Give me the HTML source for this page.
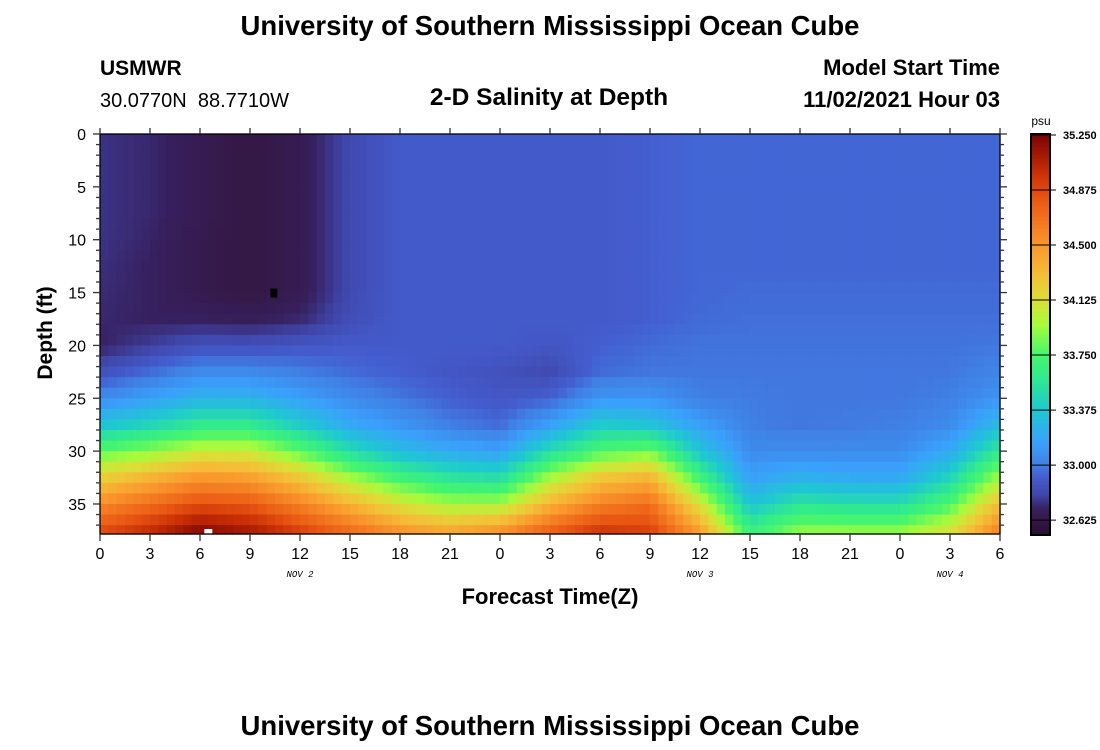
<!DOCTYPE html>
<html><head><meta charset="utf-8">
<style>
body{margin:0;background:#fff;width:1100px;height:750px;overflow:hidden;font-family:"Liberation Sans",sans-serif;}
svg{display:block}
</style></head>
<body>
<svg id="chart" width="1100" height="750">
<text x="550" y="35" text-anchor="middle" font-size="27.5" font-weight="bold">University of Southern Mississippi Ocean Cube</text>
<text x="100" y="75" font-size="21" font-weight="bold">USMWR</text>
<text x="100" y="107" font-size="20" xml:space="preserve" style="white-space:pre">30.0770N  88.7710W</text>
<text x="549" y="105" text-anchor="middle" font-size="24.5" font-weight="bold">2-D Salinity at Depth</text>
<text x="1000" y="75" text-anchor="end" font-size="22" font-weight="bold">Model Start Time</text>
<text x="1000" y="107" text-anchor="end" font-size="22" font-weight="bold">11/02/2021 Hour 03</text>
<g id="cells"></g>
<g id="axes"></g>
<g id="cbar"></g>
<text x="550" y="604" text-anchor="middle" font-size="22" font-weight="bold">Forecast Time(Z)</text>
<text transform="translate(52,333) rotate(-90)" text-anchor="middle" font-size="21" font-weight="bold">Depth (ft)</text>
<text x="550" y="735" text-anchor="middle" font-size="27.5" font-weight="bold">University of Southern Mississippi Ocean Cube</text>
</svg>
<script>
const times=[0,3,6,9,12,15,18,21,24,27,30,33,36,39,42,45,48,51,54];
const depths=[0,2.5,5,7.5,10,12.5,15,17.5,20,22.5,25,27.5,30,32.5,35,37.5];
// salinity columns, one per time, values per depth
const sal0=[32.75,32.75,32.75,32.75,32.75,32.74,32.73,32.72,32.70,32.85,33.05,33.35,33.8,34.2,34.55,34.85];
const sal3=[32.72,32.72,32.72,32.72,32.71,32.70,32.70,32.70,32.78,32.95,33.15,33.45,33.9,34.35,34.7,35.0];
const sal6=[32.66,32.66,32.66,32.66,32.65,32.65,32.65,32.70,32.85,33.05,33.25,33.6,34.05,34.5,34.85,35.2];
const sal9=[32.62,32.62,32.62,32.62,32.62,32.62,32.62,32.68,32.85,33.05,33.25,33.6,34.05,34.45,34.8,35.1];
const sal12=[32.66,32.66,32.66,32.66,32.66,32.66,32.66,32.72,32.88,33.0,33.15,33.4,33.8,34.25,34.6,34.9];
const sal15=[32.82,32.82,32.82,32.82,32.82,32.82,32.82,32.84,32.9,32.95,33.05,33.2,33.5,33.95,34.35,34.7];
const sal18=[32.9,32.9,32.9,32.9,32.9,32.9,32.9,32.9,32.9,32.92,32.98,33.1,33.3,33.7,34.1,34.5];
const sal21=[32.9,32.9,32.9,32.9,32.9,32.9,32.9,32.9,32.9,32.88,32.92,33.0,33.2,33.55,33.95,34.4];
const sal24=[32.9,32.9,32.9,32.9,32.9,32.9,32.9,32.9,32.9,32.86,32.88,32.95,33.15,33.5,33.95,34.5];
const sal27=[32.9,32.9,32.9,32.9,32.9,32.9,32.9,32.9,32.88,32.82,32.92,33.15,33.5,33.95,34.35,34.75];
const sal30=[32.9,32.9,32.9,32.9,32.9,32.9,32.9,32.9,32.92,32.95,33.1,33.4,33.75,34.25,34.6,34.95];
const sal33=[32.92,32.92,32.92,32.92,32.92,32.92,32.92,32.92,32.95,32.98,33.1,33.35,33.85,34.35,34.7,34.9];
const sal36=[32.94,32.94,32.94,32.94,32.94,32.94,32.94,32.95,32.97,32.98,33.0,33.15,33.35,33.7,34.1,34.45];
const sal39=[32.94,32.94,32.94,32.94,32.94,32.94,32.95,32.96,32.97,32.98,32.99,33.0,33.05,33.15,33.35,33.65];
const sal42=[32.94,32.94,32.94,32.94,32.94,32.94,32.95,32.96,32.97,32.98,32.98,32.98,33.05,33.25,33.55,33.9];
const sal45=[32.94,32.94,32.94,32.94,32.94,32.94,32.95,32.96,32.97,32.98,32.98,32.99,33.05,33.2,33.5,33.9];
const sal48=[32.94,32.94,32.94,32.94,32.94,32.94,32.95,32.96,32.97,32.98,32.98,33.0,33.05,33.2,33.5,33.9];
const sal51=[32.94,32.94,32.94,32.94,32.94,32.94,32.95,32.96,32.97,32.98,33.0,33.05,33.2,33.45,33.75,34.1];
const sal54=[32.94,32.94,32.94,32.94,32.94,32.94,32.95,32.96,32.98,33.02,33.1,33.3,33.6,33.95,34.3,34.6];
const salinity=[sal0,sal3,sal6,sal9,sal12,sal15,sal18,sal21,sal24,sal27,sal30,sal33,sal36,sal39,sal42,sal45,sal48,sal51,sal54];
const xTicks=[0,3,6,9,12,15,18,21,0,3,6,9,12,15,18,21,0,3,6];
const yTicks=[0,5,10,15,20,25,30,35];
const cbTicks=[35.25,34.875,34.5,34.125,33.75,33.375,33.0,32.625];
const dateLabels=["NOV 2","NOV 3","NOV 4"];
const dateHours=[12,36,51];

const NS='http://www.w3.org/2000/svg';
const X0=100,X1=1000,Y0=134,Y1=534,TMAX=54,DMAX=37.84;
const sx=t=>X0+(t/TMAX)*(X1-X0);
const sy=d=>Y0+(d/DMAX)*(Y1-Y0);
const CB0=135,CBV0=35.25,CBPX=146.7;
const cy=v=>CB0+(CBV0-v)*CBPX;
const stops=[[32.52,[40,14,50]],[32.625,[52,24,70]],[32.7,[55,32,95]],[32.8,[64,70,170]],[32.92,[68,94,208]],[33.0,[64,128,228]],[33.15,[58,160,252]],[33.375,[30,200,210]],[33.6,[50,235,140]],[33.75,[70,245,110]],[33.95,[164,252,60]],[34.125,[220,222,55]],[34.3,[245,190,55]],[34.5,[250,150,45]],[34.8,[235,90,20]],[35.0,[200,45,5]],[35.25,[122,4,3]]];
function col(v){
  if(v<=stops[0][0])return 'rgb('+stops[0][1]+')';
  for(let i=1;i<stops.length;i++){
    if(v<=stops[i][0]){
      const a=stops[i-1],b=stops[i],f=(v-a[0])/(b[0]-a[0]);
      return 'rgb('+a[1].map((c,k)=>Math.round(c+(b[1][k]-c)*f)).join(',')+')';
    }
  }
  return 'rgb('+stops[stops.length-1][1]+')';
}
function idx(arr,v){let i=0;while(i<arr.length-2&&v>arr[i+1])i++;return i;}
function sample(t,d){
  const i=idx(times,t),j=idx(depths,d);
  const ft=Math.max(0,Math.min(1,(t-times[i])/(times[i+1]-times[i])));
  const fd=Math.max(0,Math.min(1,(d-depths[j])/(depths[j+1]-depths[j])));
  const a=salinity[i][j],b=salinity[i+1][j],c=salinity[i][j+1],e=salinity[i+1][j+1];
  return (a*(1-ft)+b*ft)*(1-fd)+(c*(1-ft)+e*ft)*fd;
}
const cells=document.getElementById('cells');
const NT=108,ND=38;
for(let a=0;a<NT;a++){
  for(let b=0;b<ND;b++){
    const t0=a*TMAX/NT,t1=(a+1)*TMAX/NT,d0=b,d1=Math.min(b+1,DMAX);
    const r=document.createElementNS(NS,'rect');
    r.setAttribute('x',sx(t0));r.setAttribute('y',sy(d0));
    r.setAttribute('width',sx(t1)-sx(t0)+0.6);r.setAttribute('height',sy(d1)-sy(d0)+0.6);
    r.setAttribute('fill',col(sample((t0+t1)/2,(d0+d1)/2)));
    
    
    cells.appendChild(r);
  }
}
function mk(tag,attrs,parent){const e=document.createElementNS(NS,tag);for(const k in attrs)e.setAttribute(k,attrs[k]);parent.appendChild(e);return e;}
const axes=document.getElementById('axes');
let m=mk('rect',{x:sx(10.4)-3,y:sy(15)-4,width:7,height:9,fill:'#000'},axes);


m=mk('rect',{x:sx(6.5)-4,y:Y1-5,width:8,height:5,fill:'#fff'},axes);


mk('rect',{x:X0,y:Y0,width:X1-X0,height:Y1-Y0,fill:'none',stroke:'#000','stroke-width':1.3},axes);
xTicks.forEach((lab,i)=>{
  const x=sx(i*3);
  mk('line',{x1:x,x2:x,y1:Y1,y2:Y1+7,stroke:'#333','stroke-width':1.3},axes);
  mk('line',{x1:x,x2:x,y1:Y0,y2:Y0-6,stroke:'#333','stroke-width':1.3},axes);
  const tx=mk('text',{x:x,y:Y1+25,'text-anchor':'middle','font-size':16},axes);
  tx.textContent=lab;
  
  
});
for(let d=0;d<=37;d++){
  const y=sy(d),maj=d%5===0;
  mk('line',{x1:X0,x2:X0-(maj?7:4),y1:y,y2:y,stroke:'#333','stroke-width':1.3},axes);
  mk('line',{x1:X1,x2:X1+(maj?7:4),y1:y,y2:y,stroke:'#333','stroke-width':1.3},axes);
}
yTicks.forEach(d=>{
  const tx=mk('text',{x:X0-14,y:sy(d)+6,'text-anchor':'end','font-size':16},axes);
  tx.textContent=d;
  
  
});
dateLabels.forEach((lab,i)=>{
  const tx=mk('text',{x:sx(dateHours[i]),y:577,'text-anchor':'middle','font-size':9,'font-style':'italic','font-family':'Liberation Mono, monospace'},axes);
  tx.textContent=lab;
  
  
});
const cb=document.getElementById('cbar');
for(let y=CB0-1;y<535;y++){
  const v=CBV0-(y+0.5-CB0)/CBPX;
  mk('rect',{x:1031,y:y,width:19,height:1.2,fill:col(v)},cb);
}
mk('rect',{x:1031,y:134,width:19,height:401,fill:'none',stroke:'#000','stroke-width':2},cb);
let pt=mk('text',{x:1041,y:125,'text-anchor':'middle','font-size':12},cb);
pt.textContent='psu';


cbTicks.forEach(v=>{
  const y=cy(v);
  mk('line',{x1:1031,x2:1056,y1:y,y2:y,stroke:'#000','stroke-width':1},cb);
  const tx=mk('text',{x:1063,y:y+4,'font-size':11,'font-weight':'bold'},cb);
  tx.textContent=v.toFixed(3);
  
  
});
</script>
</body></html>
